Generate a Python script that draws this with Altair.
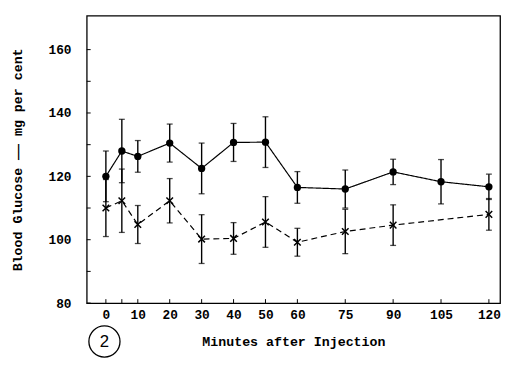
import altair as alt
import pandas as pd

# Series A (solid line, filled circles)
minutes_a = [0, 5, 10, 20, 30, 40, 50, 60, 75, 90, 105, 120]
glucose_a = [120, 128, 126.3, 130.5, 122.5, 130.7, 130.8, 116.5, 116, 121.4, 118.3, 116.7]
err_a = [8, 10, 5, 6, 8, 6, 8, 5, 6, 4, 7, 4]

# Series B (dashed line, x markers)
minutes_b = [0, 5, 10, 20, 30, 40, 50, 60, 75, 90, 120]
glucose_b = [110, 112.3, 104.8, 112.3, 100.2, 100.4, 105.6, 99.2, 102.6, 104.6, 108]
err_b = [9, 10, 6, 7, 7.7, 5, 8, 4.4, 7, 6.4, 5]

x_tick_values = [0, 5, 10, 20, 30, 40, 50, 60, 75, 90, 105, 120]
y_tick_values = [80, 90, 100, 110, 120, 130, 140, 150, 160]

FONT = "Liberation Mono"

df_a = pd.DataFrame({"min": minutes_a, "g": glucose_a,
                     "lo": [v - e for v, e in zip(glucose_a, err_a)],
                     "hi": [v + e for v, e in zip(glucose_a, err_a)]})
df_b = pd.DataFrame({"min": minutes_b, "g": glucose_b,
                     "lo": [v - e for v, e in zip(glucose_b, err_b)],
                     "hi": [v + e for v, e in zip(glucose_b, err_b)]})

W, H = 420, 292

xscale = alt.Scale(domain=[-6, 123.5], nice=False, zero=False)
yscale = alt.Scale(domain=[80, 170.7], nice=False, zero=False)

xaxis = alt.Axis(values=x_tick_values, labelExpr="datum.value == 5 ? '' : datum.label",
                 ticks=False, domain=False, grid=False, labelPadding=6,
                 labelOverlap=False, labelFlush=False, labelBound=False,
                 title="Minutes after Injection", titlePadding=13)
yaxis = alt.Axis(values=y_tick_values, labelExpr="datum.value % 20 == 0 ? datum.label : ''",
                 ticks=False, domain=False, grid=False, labelPadding=16,
                 labelOverlap=False, labelFlush=False, labelBound=False,
                 title="Blood Glucose —— mg per cent", titlePadding=24)


def xq(f):
    return alt.X(f + ":Q", scale=xscale, axis=xaxis)


def yq(f):
    return alt.Y(f + ":Q", scale=yscale, axis=yaxis)


def series(df, dash, pt):
    base = alt.Chart(df)
    line = base.mark_line(color="black", strokeWidth=1.2, strokeDash=dash).encode(x=xq("min"), y=yq("g"))
    bars = base.mark_rule(color="black", strokeWidth=1.4).encode(x=xq("min"), y=yq("lo"), y2="hi:Q")
    cap_lo = base.mark_tick(color="black", orient="horizontal", size=6, thickness=1.3).encode(
        x=xq("min"), y=yq("lo"))
    cap_hi = base.mark_tick(color="black", orient="horizontal", size=6, thickness=1.3).encode(
        x=xq("min"), y=yq("hi"))
    return [line, bars, cap_lo, cap_hi, pt(base)]


pts_a = lambda b: b.mark_point(shape="circle", filled=True, color="black", size=55,
                               opacity=1).encode(x=xq("min"), y=yq("g"))
pts_b = lambda b: b.mark_point(shape="M-1,-1L1,1M-1,1L1,-1", filled=False, color="black",
                               size=45, strokeWidth=1.5, opacity=1).encode(x=xq("min"), y=yq("g"))

layers = series(df_a, [1, 0], pts_a) + series(df_b, [6, 4], pts_b)

# inward tick marks
yt = alt.Chart(pd.DataFrame({"v": y_tick_values})).mark_rule(color="black", strokeWidth=1).encode(
    y=yq("v"), x=alt.value(0), x2=alt.value(4))
xt = alt.Chart(pd.DataFrame({"v": x_tick_values})).mark_rule(color="black", strokeWidth=1).encode(
    x=xq("v"), y=alt.value(H), y2=alt.value(H - 4))

# circled panel number
label_df = pd.DataFrame({"t": ["2"]})
circ = alt.Chart(label_df).mark_point(shape="circle", filled=False, color="black", size=1000,
                                      strokeWidth=1.3, opacity=1, clip=False).encode(
    x=alt.value(18), y=alt.value(331))
num = alt.Chart(label_df).mark_text(font="Liberation Sans", fontSize=17, color="black",
                                    clip=False, baseline="middle", align="center").encode(
    x=alt.value(18), y=alt.value(332), text="t:N")

chart = alt.layer(*layers, yt, xt, circ, num).properties(
    width=W, height=H,
    autosize=alt.AutoSizeParams(type="none"),
    padding={"left": 80, "top": 5, "right": 4, "bottom": 55},
).configure(background="white").configure_view(stroke="black", strokeWidth=1.3).configure_axis(
    labelFont=FONT, labelFontSize=13, labelFontWeight="bold", labelColor="black",
    titleFont=FONT, titleFontSize=13.5, titleFontWeight="bold", titleColor="black",
    labelOverlap=False,
)

chart.save("out.html", embed_options={"renderer": "svg", "actions": False})
